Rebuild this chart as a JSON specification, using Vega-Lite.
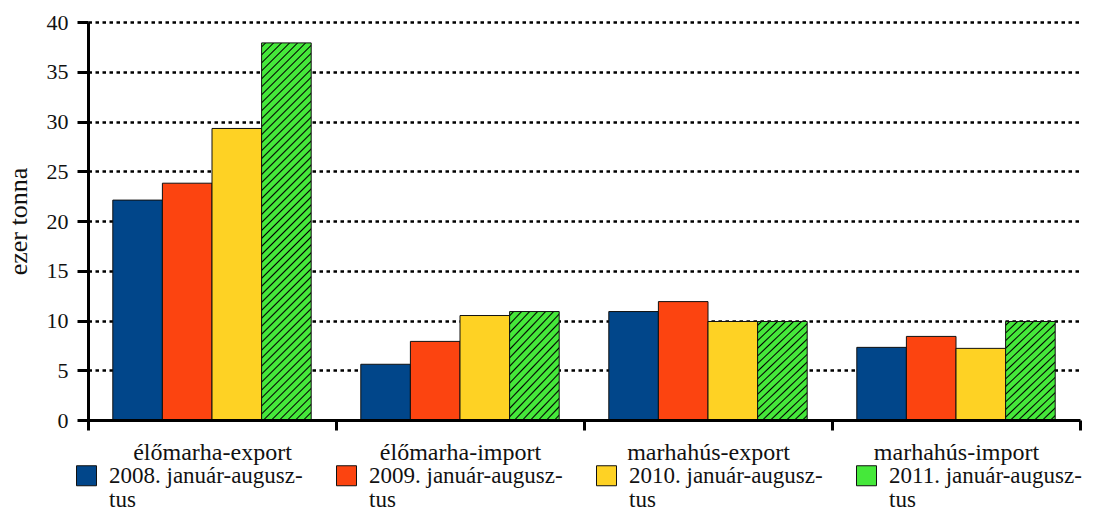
{
  "$schema": "https://vega.github.io/schema/vega-lite/v6.json",
  "width": 992,
  "height": 398,
  "autosize": "none",
  "padding": {"left": 88, "top": 22, "right": 21, "bottom": 94},
  "background": "white",
  "config": {"view": {"stroke": null}, "font": "Liberation Serif"},
  "data": {
    "values": [
      {"kat": "élőmarha-export", "ev": "2008. január-augusztus", "v": 22.1},
      {"kat": "élőmarha-export", "ev": "2009. január-augusztus", "v": 23.8},
      {"kat": "élőmarha-export", "ev": "2010. január-augusztus", "v": 29.3},
      {"kat": "élőmarha-export", "ev": "2011. január-augusztus", "v": 37.9},
      {"kat": "élőmarha-import", "ev": "2008. január-augusztus", "v": 5.6},
      {"kat": "élőmarha-import", "ev": "2009. január-augusztus", "v": 7.9},
      {"kat": "élőmarha-import", "ev": "2010. január-augusztus", "v": 10.5},
      {"kat": "élőmarha-import", "ev": "2011. január-augusztus", "v": 10.9},
      {"kat": "marhahús-export", "ev": "2008. január-augusztus", "v": 10.9},
      {"kat": "marhahús-export", "ev": "2009. január-augusztus", "v": 11.9},
      {"kat": "marhahús-export", "ev": "2010. január-augusztus", "v": 9.9},
      {"kat": "marhahús-export", "ev": "2011. január-augusztus", "v": 9.9},
      {"kat": "marhahús-import", "ev": "2008. január-augusztus", "v": 7.3},
      {"kat": "marhahús-import", "ev": "2009. január-augusztus", "v": 8.4},
      {"kat": "marhahús-import", "ev": "2010. január-augusztus", "v": 7.2},
      {"kat": "marhahús-import", "ev": "2011. január-augusztus", "v": 9.9}
    ]
  },
  "mark": {"type": "bar", "stroke": "#111111", "strokeWidth": 1},
  "encoding": {
    "x": {
      "field": "kat", "type": "nominal",
      "sort": ["élőmarha-export", "élőmarha-import", "marhahús-export", "marhahús-import"],
      "scale": {"paddingInner": 0, "paddingOuter": 0},
      "axis": {
        "title": null, "labelAngle": 0, "tickBand": "extent", "tickSize": 10, "tickWidth": 3,
        "tickColor": "#000", "domainColor": "#000", "domainWidth": 3, "labelFontSize": 24,
        "labelFont": "Liberation Serif", "labelBaseline": "alphabetic", "labelPadding": 29,
        "labelColor": "#111", "grid": false, "zindex": 1
      }
    },
    "xOffset": {
      "field": "ev", "type": "nominal",
      "scale": {"paddingInner": 0, "paddingOuter": 0.5}
    },
    "y": {
      "field": "v", "type": "quantitative",
      "scale": {"domain": [0, 40], "nice": false},
      "axis": {
        "title": "ezer tonna", "values": [0, 5, 10, 15, 20, 25, 30, 35, 40],
        "grid": true, "gridColor": "#000", "gridDash": [3.5, 3.5], "gridWidth": 2.5,
        "domainColor": "#000", "domainWidth": 3, "tickColor": "#000", "tickWidth": 3,
        "tickSize": 11, "labelPadding": 9, "labelFontSize": 22, "labelFont": "Liberation Serif",
        "labelColor": "#111", "titleFont": "Liberation Serif", "titleFontSize": 26,
        "titleFontWeight": "normal", "titleColor": "#111", "titleX": -70, "titleBaseline": "middle",
        "titleAngle": -90, "zindex": 0
      }
    },
    "fill": {
      "field": "ev", "type": "nominal",
      "scale": {
        "domain": ["2008. január-augusztus", "2009. január-augusztus", "2010. január-augusztus", "2011. január-augusztus"],
        "range": ["#01468a", "#fc4410", "#fed224", "#45e83a"]
      },
      "legend": {
        "orient": "none", "legendX": -13, "legendY": 442, "direction": "horizontal", "columns": 4,
        "title": null, "symbolType": "square", "symbolSize": 400, "symbolStrokeColor": "#111",
        "symbolStrokeWidth": 1, "labelFont": "Liberation Serif", "labelFontSize": 23,
        "labelColor": "#111", "labelOffset": 11, "columnPadding": 31, "labelLimit": 400,
        "labelExpr": "[replace(datum.label, 'augusztus', 'augusz-'), 'tus']",
        "encode": {"labels": {"update": {"lineHeight": {"value": 24}}}}
      },
      "condition": [
        {
          "test": "datum.ev == '2011. január-augusztus' && datum.kat == 'élőmarha-export'",
          "value": {
            "gradient": "linear", "x1": 0, "y1": 0, "x2": 0.1706, "y2": 1.3002,
            "stops": [
              {"offset": 0.005, "color": "#45e83a"}, {"offset": 0.008, "color": "#000"}, {"offset": 0.011, "color": "#45e83a"},
              {"offset": 0.021, "color": "#45e83a"}, {"offset": 0.024, "color": "#000"}, {"offset": 0.027, "color": "#45e83a"},
              {"offset": 0.037, "color": "#45e83a"}, {"offset": 0.040, "color": "#000"}, {"offset": 0.043, "color": "#45e83a"},
              {"offset": 0.053, "color": "#45e83a"}, {"offset": 0.056, "color": "#000"}, {"offset": 0.059, "color": "#45e83a"},
              {"offset": 0.069, "color": "#45e83a"}, {"offset": 0.072, "color": "#000"}, {"offset": 0.075, "color": "#45e83a"},
              {"offset": 0.085, "color": "#45e83a"}, {"offset": 0.088, "color": "#000"}, {"offset": 0.091, "color": "#45e83a"},
              {"offset": 0.101, "color": "#45e83a"}, {"offset": 0.104, "color": "#000"}, {"offset": 0.107, "color": "#45e83a"},
              {"offset": 0.117, "color": "#45e83a"}, {"offset": 0.120, "color": "#000"}, {"offset": 0.123, "color": "#45e83a"},
              {"offset": 0.133, "color": "#45e83a"}, {"offset": 0.136, "color": "#000"}, {"offset": 0.139, "color": "#45e83a"},
              {"offset": 0.149, "color": "#45e83a"}, {"offset": 0.152, "color": "#000"}, {"offset": 0.155, "color": "#45e83a"},
              {"offset": 0.165, "color": "#45e83a"}, {"offset": 0.168, "color": "#000"}, {"offset": 0.171, "color": "#45e83a"},
              {"offset": 0.181, "color": "#45e83a"}, {"offset": 0.184, "color": "#000"}, {"offset": 0.187, "color": "#45e83a"},
              {"offset": 0.197, "color": "#45e83a"}, {"offset": 0.200, "color": "#000"}, {"offset": 0.203, "color": "#45e83a"},
              {"offset": 0.213, "color": "#45e83a"}, {"offset": 0.216, "color": "#000"}, {"offset": 0.219, "color": "#45e83a"},
              {"offset": 0.229, "color": "#45e83a"}, {"offset": 0.232, "color": "#000"}, {"offset": 0.235, "color": "#45e83a"},
              {"offset": 0.245, "color": "#45e83a"}, {"offset": 0.248, "color": "#000"}, {"offset": 0.251, "color": "#45e83a"},
              {"offset": 0.261, "color": "#45e83a"}, {"offset": 0.264, "color": "#000"}, {"offset": 0.267, "color": "#45e83a"},
              {"offset": 0.277, "color": "#45e83a"}, {"offset": 0.280, "color": "#000"}, {"offset": 0.283, "color": "#45e83a"},
              {"offset": 0.293, "color": "#45e83a"}, {"offset": 0.296, "color": "#000"}, {"offset": 0.299, "color": "#45e83a"},
              {"offset": 0.309, "color": "#45e83a"}, {"offset": 0.312, "color": "#000"}, {"offset": 0.315, "color": "#45e83a"},
              {"offset": 0.325, "color": "#45e83a"}, {"offset": 0.328, "color": "#000"}, {"offset": 0.331, "color": "#45e83a"},
              {"offset": 0.341, "color": "#45e83a"}, {"offset": 0.344, "color": "#000"}, {"offset": 0.347, "color": "#45e83a"},
              {"offset": 0.357, "color": "#45e83a"}, {"offset": 0.360, "color": "#000"}, {"offset": 0.363, "color": "#45e83a"},
              {"offset": 0.373, "color": "#45e83a"}, {"offset": 0.376, "color": "#000"}, {"offset": 0.379, "color": "#45e83a"},
              {"offset": 0.389, "color": "#45e83a"}, {"offset": 0.392, "color": "#000"}, {"offset": 0.395, "color": "#45e83a"},
              {"offset": 0.405, "color": "#45e83a"}, {"offset": 0.408, "color": "#000"}, {"offset": 0.411, "color": "#45e83a"},
              {"offset": 0.421, "color": "#45e83a"}, {"offset": 0.424, "color": "#000"}, {"offset": 0.427, "color": "#45e83a"},
              {"offset": 0.437, "color": "#45e83a"}, {"offset": 0.440, "color": "#000"}, {"offset": 0.443, "color": "#45e83a"},
              {"offset": 0.453, "color": "#45e83a"}, {"offset": 0.456, "color": "#000"}, {"offset": 0.459, "color": "#45e83a"},
              {"offset": 0.469, "color": "#45e83a"}, {"offset": 0.472, "color": "#000"}, {"offset": 0.475, "color": "#45e83a"},
              {"offset": 0.485, "color": "#45e83a"}, {"offset": 0.488, "color": "#000"}, {"offset": 0.491, "color": "#45e83a"},
              {"offset": 0.501, "color": "#45e83a"}, {"offset": 0.504, "color": "#000"}, {"offset": 0.507, "color": "#45e83a"},
              {"offset": 0.517, "color": "#45e83a"}, {"offset": 0.520, "color": "#000"}, {"offset": 0.523, "color": "#45e83a"},
              {"offset": 0.533, "color": "#45e83a"}, {"offset": 0.536, "color": "#000"}, {"offset": 0.539, "color": "#45e83a"},
              {"offset": 0.549, "color": "#45e83a"}, {"offset": 0.552, "color": "#000"}, {"offset": 0.555, "color": "#45e83a"},
              {"offset": 0.565, "color": "#45e83a"}, {"offset": 0.568, "color": "#000"}, {"offset": 0.571, "color": "#45e83a"},
              {"offset": 0.581, "color": "#45e83a"}, {"offset": 0.584, "color": "#000"}, {"offset": 0.587, "color": "#45e83a"},
              {"offset": 0.597, "color": "#45e83a"}, {"offset": 0.600, "color": "#000"}, {"offset": 0.603, "color": "#45e83a"},
              {"offset": 0.613, "color": "#45e83a"}, {"offset": 0.616, "color": "#000"}, {"offset": 0.619, "color": "#45e83a"},
              {"offset": 0.629, "color": "#45e83a"}, {"offset": 0.632, "color": "#000"}, {"offset": 0.635, "color": "#45e83a"},
              {"offset": 0.645, "color": "#45e83a"}, {"offset": 0.648, "color": "#000"}, {"offset": 0.651, "color": "#45e83a"},
              {"offset": 0.661, "color": "#45e83a"}, {"offset": 0.664, "color": "#000"}, {"offset": 0.667, "color": "#45e83a"},
              {"offset": 0.677, "color": "#45e83a"}, {"offset": 0.680, "color": "#000"}, {"offset": 0.683, "color": "#45e83a"},
              {"offset": 0.693, "color": "#45e83a"}, {"offset": 0.696, "color": "#000"}, {"offset": 0.699, "color": "#45e83a"},
              {"offset": 0.709, "color": "#45e83a"}, {"offset": 0.712, "color": "#000"}, {"offset": 0.715, "color": "#45e83a"},
              {"offset": 0.725, "color": "#45e83a"}, {"offset": 0.728, "color": "#000"}, {"offset": 0.731, "color": "#45e83a"},
              {"offset": 0.741, "color": "#45e83a"}, {"offset": 0.744, "color": "#000"}, {"offset": 0.747, "color": "#45e83a"},
              {"offset": 0.757, "color": "#45e83a"}, {"offset": 0.760, "color": "#000"}, {"offset": 0.763, "color": "#45e83a"},
              {"offset": 0.773, "color": "#45e83a"}, {"offset": 0.776, "color": "#000"}, {"offset": 0.779, "color": "#45e83a"},
              {"offset": 0.789, "color": "#45e83a"}, {"offset": 0.792, "color": "#000"}, {"offset": 0.795, "color": "#45e83a"},
              {"offset": 0.805, "color": "#45e83a"}, {"offset": 0.808, "color": "#000"}, {"offset": 0.811, "color": "#45e83a"},
              {"offset": 0.821, "color": "#45e83a"}, {"offset": 0.824, "color": "#000"}, {"offset": 0.827, "color": "#45e83a"},
              {"offset": 0.837, "color": "#45e83a"}, {"offset": 0.840, "color": "#000"}, {"offset": 0.843, "color": "#45e83a"}
            ]
          }
        },
        {
          "test": "datum.ev == '2011. január-augusztus'",
          "value": {
            "gradient": "linear", "x1": 0, "y1": 0, "x2": 0.7591, "y2": 1.5763,
            "stops": [
              {"offset": 0.0125, "color": "#45e83a"}, {"offset": 0.02, "color": "#000"}, {"offset": 0.0275, "color": "#45e83a"},
              {"offset": 0.0525, "color": "#45e83a"}, {"offset": 0.06, "color": "#000"}, {"offset": 0.0675, "color": "#45e83a"},
              {"offset": 0.0925, "color": "#45e83a"}, {"offset": 0.10, "color": "#000"}, {"offset": 0.1075, "color": "#45e83a"},
              {"offset": 0.1325, "color": "#45e83a"}, {"offset": 0.14, "color": "#000"}, {"offset": 0.1475, "color": "#45e83a"},
              {"offset": 0.1725, "color": "#45e83a"}, {"offset": 0.18, "color": "#000"}, {"offset": 0.1875, "color": "#45e83a"},
              {"offset": 0.2125, "color": "#45e83a"}, {"offset": 0.22, "color": "#000"}, {"offset": 0.2275, "color": "#45e83a"},
              {"offset": 0.2525, "color": "#45e83a"}, {"offset": 0.26, "color": "#000"}, {"offset": 0.2675, "color": "#45e83a"},
              {"offset": 0.2925, "color": "#45e83a"}, {"offset": 0.30, "color": "#000"}, {"offset": 0.3075, "color": "#45e83a"},
              {"offset": 0.3325, "color": "#45e83a"}, {"offset": 0.34, "color": "#000"}, {"offset": 0.3475, "color": "#45e83a"},
              {"offset": 0.3725, "color": "#45e83a"}, {"offset": 0.38, "color": "#000"}, {"offset": 0.3875, "color": "#45e83a"},
              {"offset": 0.4125, "color": "#45e83a"}, {"offset": 0.42, "color": "#000"}, {"offset": 0.4275, "color": "#45e83a"},
              {"offset": 0.4525, "color": "#45e83a"}, {"offset": 0.46, "color": "#000"}, {"offset": 0.4675, "color": "#45e83a"},
              {"offset": 0.4925, "color": "#45e83a"}, {"offset": 0.50, "color": "#000"}, {"offset": 0.5075, "color": "#45e83a"},
              {"offset": 0.5325, "color": "#45e83a"}, {"offset": 0.54, "color": "#000"}, {"offset": 0.5475, "color": "#45e83a"},
              {"offset": 0.5725, "color": "#45e83a"}, {"offset": 0.58, "color": "#000"}, {"offset": 0.5875, "color": "#45e83a"},
              {"offset": 0.6125, "color": "#45e83a"}, {"offset": 0.62, "color": "#000"}, {"offset": 0.6275, "color": "#45e83a"},
              {"offset": 0.6525, "color": "#45e83a"}, {"offset": 0.66, "color": "#000"}, {"offset": 0.6675, "color": "#45e83a"},
              {"offset": 0.6925, "color": "#45e83a"}, {"offset": 0.70, "color": "#000"}, {"offset": 0.7075, "color": "#45e83a"},
              {"offset": 0.7325, "color": "#45e83a"}, {"offset": 0.74, "color": "#000"}, {"offset": 0.7475, "color": "#45e83a"},
              {"offset": 0.7725, "color": "#45e83a"}, {"offset": 0.78, "color": "#000"}, {"offset": 0.7875, "color": "#45e83a"}
            ]
          }
        }
      ]
    }
  }
}
